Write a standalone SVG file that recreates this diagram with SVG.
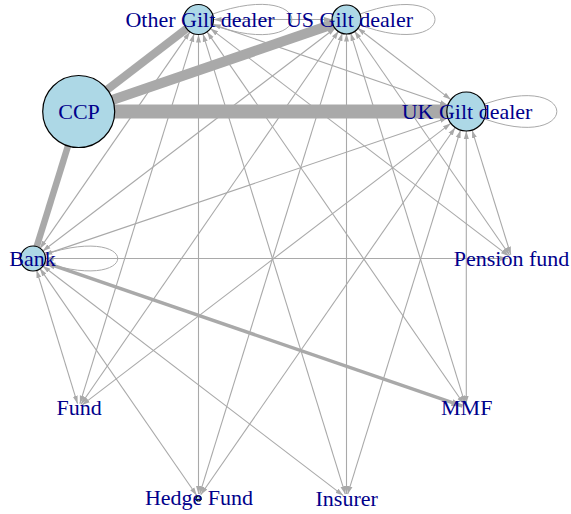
<svg xmlns="http://www.w3.org/2000/svg" width="571" height="514" viewBox="0 0 571 514">
<defs>
<marker id="ah" markerUnits="userSpaceOnUse" markerWidth="8" markerHeight="6" viewBox="0 0 8 6" refX="8" refY="3" orient="auto-start-reverse"><path d="M0,0.5 L8,3 L0,5.5 z" fill="#a9a9a9"/></marker>
<marker id="ah2" markerUnits="userSpaceOnUse" markerWidth="11" markerHeight="8" viewBox="0 0 11 8" refX="11" refY="4" orient="auto-start-reverse"><path d="M0,0.5 L11,4 L0,7.5 z" fill="#a9a9a9"/></marker>
<style>
.e{stroke:#a9a9a9;stroke-width:1.1;fill:none;marker-start:url(#ah);marker-end:url(#ah)}
.lp{stroke:#a9a9a9;stroke-width:1;fill:none}
.t{stroke:#a9a9a9;fill:none}
.n{fill:#add8e6;stroke:#000;stroke-width:1.2}
.l{font-family:"Liberation Serif","Times New Roman",serif;font-size:22px;fill:#00008b;text-anchor:middle}
</style>
</defs>
<g id="edges">
<path class="lp" d="M198.5,19.5 C323,-33 323,72 198.5,19.5"/>
<path class="lp" d="M346.5,19.5 C464.5,-32.5 464.5,71.5 346.5,19.5"/>
<path class="lp" d="M466.3,111.5 C587,56.5 587,166.5 466.3,111.5"/>
<path class="lp" d="M33,258.5 C146,215.5 146,301.5 33,258.5"/>
<line class="e" x1="189.97" y1="31.84" x2="39.82" y2="248.63"/>
<line class="e" x1="194.07" y1="33.83" x2="79.88" y2="403.68"/>
<line class="e" x1="198.5" y1="34.5" x2="198.5" y2="494"/>
<line class="e" x1="202.93" y1="33.83" x2="345.32" y2="494.18"/>
<line class="e" x1="207.03" y1="31.84" x2="464.03" y2="404.21"/>
<line class="e" x1="210.42" y1="28.61" x2="508.82" y2="256.07"/>
<line class="e" x1="212.68" y1="24.37" x2="447.86" y2="105.16"/>
<line class="e" x1="213.5" y1="19.5" x2="332" y2="19.5"/>
<line class="e" x1="335.37" y1="28" x2="42.54" y2="251.21"/>
<line class="e" x1="338.54" y1="31.02" x2="80.97" y2="404.21"/>
<line class="e" x1="342.37" y1="32.88" x2="199.68" y2="494.18"/>
<line class="e" x1="346.5" y1="33.5" x2="346.5" y2="494"/>
<line class="e" x1="350.64" y1="32.88" x2="465.12" y2="403.68"/>
<line class="e" x1="354.46" y1="31.02" x2="509.73" y2="255.21"/>
<line class="e" x1="357.6" y1="28.03" x2="450.83" y2="99.62"/>
<line class="e" x1="447.84" y1="117.78" x2="44.36" y2="254.63"/>
<line class="e" x1="450.79" y1="123.32" x2="81.88" y2="405.07"/>
<line class="e" x1="455.2" y1="127.54" x2="200.78" y2="494.71"/>
<line class="e" x1="460.53" y1="130.13" x2="347.68" y2="494.18"/>
<line class="e" x1="466.3" y1="131" x2="466.3" y2="403.5"/>
<line class="e" x1="472.07" y1="130.13" x2="510.82" y2="254.68"/>
<line class="e" x1="45.5" y1="258.5" x2="508" y2="258.5"/>
<line class="e" x1="36.54" y1="269.97" x2="77.52" y2="403.68"/>
<line class="e" x1="39.82" y1="268.37" x2="196.79" y2="495.53"/>
<line class="e" x1="42.54" y1="265.79" x2="343.32" y2="495.57"/>
<line class="t" x1="44.36" y1="262.38" x2="462.51" y2="406.21" stroke-width="3.5" marker-start="url(#ah2)" marker-end="url(#ah2)"/>
<line class="t" x1="78.7" y1="111.5" x2="198.5" y2="19.5" stroke-width="8"/>
<line class="t" x1="78.7" y1="111.5" x2="346.5" y2="19.5" stroke-width="10"/>
<line class="t" x1="78.7" y1="111.5" x2="466.3" y2="111.5" stroke-width="14"/>
<line class="t" x1="78.7" y1="111.5" x2="33" y2="258.5" stroke-width="6.5"/>
</g>
<g id="node-ccp"><circle class="n" cx="78.7" cy="111.5" r="36"/><text class="l" x="79" y="119.3">CCP</text></g>
<g id="node-other-gilt-dealer"><circle class="n" cx="198.5" cy="19.5" r="15"/><text class="l" x="200" y="26.7">Other Gilt dealer</text></g>
<g id="node-us-gilt-dealer"><circle class="n" cx="346.5" cy="19.5" r="14.5"/><text class="l" x="349.5" y="26.7">US Gilt dealer</text></g>
<g id="node-uk-gilt-dealer"><circle class="n" cx="466.3" cy="111.5" r="19.5"/><text class="l" x="467" y="119.3">UK Gilt dealer</text></g>
<g id="node-pension-fund"><text class="l" x="511.5" y="265.7">Pension fund</text></g>
<g id="node-mmf"><text class="l" x="466.7" y="415">MMF</text></g>
<g id="node-insurer"><text class="l" x="346.7" y="505.5">Insurer</text></g>
<g id="node-hedge-fund"><circle class="n" cx="198.5" cy="498.5" r="2.5"/><text class="l" x="199" y="505">Hedge Fund</text></g>
<g id="node-fund"><text class="l" x="79.2" y="415">Fund</text></g>
<g id="node-bank"><circle class="n" cx="33" cy="258.5" r="12.5"/><text class="l" x="32.5" y="265.7">Bank</text></g>
</svg>
